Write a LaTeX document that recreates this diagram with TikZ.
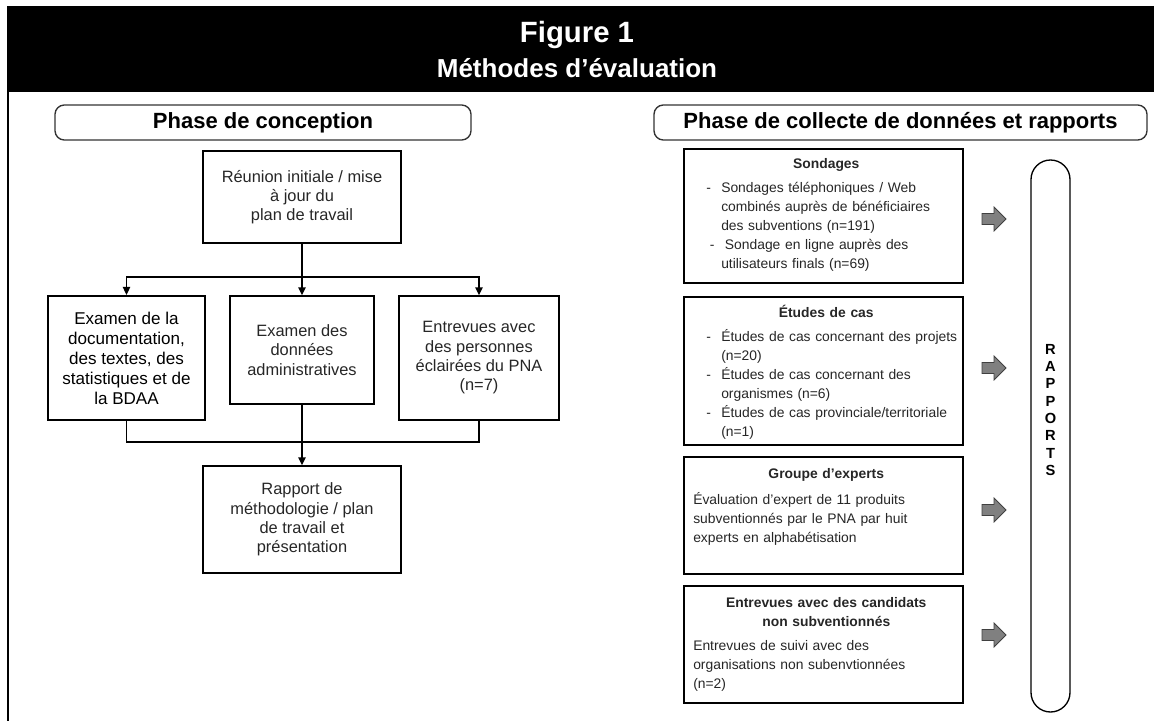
\documentclass[tikz,border=0pt]{standalone}
\usepackage{fontspec}
\setmainfont{Liberation Sans}
\usetikzlibrary{positioning,arrows.meta}

\hyphenpenalty=10000
\exhyphenpenalty=10000
\newcommand{\titrebox}[1]{{\centering\advance\rightskip 12pt\bfseries #1\par}\vspace{4pt}}
\newcommand{\puce}[2][9.75pt]{\par\hangindent=21pt\hangafter=1\noindent
  \hspace*{#1}\makebox[11.25pt][l]{-}#2\par}

\tikzset{
  entete/.style={text=white, inner sep=0pt},
  phase/.style={draw=black!80, line width=1pt, rounded corners=7pt, inner sep=0pt,
    minimum height=26.25pt, font=\bfseries\fontsize{16.5}{19}\selectfont},
  stepbox/.style={draw, line width=1pt, inner sep=0pt, align=center, text=black!85,
    font=\fontsize{12.3}{14.5}\selectfont},
  databox/.style={draw, line width=1pt, inner sep=0pt, minimum width=209.25pt},
  boxtext/.style={inner sep=0pt, align=left, text width=211.5pt, anchor=base west, text=black!85,
    font=\fontsize{10.4}{14.25}\selectfont},
  fleche/.pic={\draw[draw=black!75, fill=black!50, line width=0.6pt]
    (-12,-5.5) -- (0,-5.5) -- (0,-12) -- (12,0) -- (0,12) -- (0,5.5) -- (-12,5.5) -- cycle;},
  link/.style={line width=1.1pt},
  linkarrow/.style={link, -{Triangle[length=6pt,width=5.5pt]}}
}

\begin{document}
\begin{tikzpicture}[x=0.75pt,y=-0.75pt]
\useasboundingbox (0,0) rectangle (1154,721);

% en-tete
\fill[black] (7,6) rectangle (1154,92);
\node[entete, font=\bfseries\fontsize{22}{26}\selectfont] (fig) at (577,35) {Figure 1};
\node[entete, font=\bfseries\fontsize{19.5}{23}\selectfont] (methodes) at (577,68) {Méthodes d’évaluation};
\draw[line width=1.6pt] (8,92) -- (8,721);

% phases
\node[phase, minimum width=312pt] (conception) at (263,122.5) {Phase de conception};
\node[phase, minimum width=369.75pt] (collecte) at (900.5,122.5) {Phase de collecte de données et rapports};

% phase de conception
\node[stepbox, minimum width=148.5pt, minimum height=69pt] (reunion) at (302,197)
  {Réunion initiale / mise\\à jour du\\plan de travail};
\node[stepbox, line width=1.6pt, text=black, font=\fontsize{12.8}{15}\selectfont,
  minimum width=117.75pt, minimum height=93pt] (examdoc) at (126.5,358)
  {Examen de la\\documentation,\\des textes, des\\statistiques et de\\la BDAA};
\node[stepbox, minimum width=108pt, minimum height=81pt] (examdon) at (302,350)
  {Examen des\\données\\administratives};
\node[stepbox, minimum width=120pt, minimum height=93pt] (entrev) at (479,358)
  {Entrevues avec\\des personnes\\éclairées du PNA\\(n=7)};
\node[stepbox, minimum width=148.5pt, minimum height=80.25pt] (rapport) at (302,519.5)
  {Rapport de\\méthodologie / plan\\de travail et\\présentation};

\coordinate (split) at (302,277);
\coordinate (merge) at (302,442);
\draw[link] (reunion.south) -- (split);
\draw[linkarrow] (split) -| (examdoc.north);
\draw[linkarrow] (split) -- (examdon.north);
\draw[linkarrow] (split) -| (entrev.north);
\draw[link] (examdoc.south) |- (merge);
\draw[link] (entrev.south) |- (merge);
\draw[linkarrow] (examdon.south) -- (rapport.north);

% collecte de donnees
\node[databox, minimum height=100.5pt] (sond) at (823.5,216) {};
\node[databox, minimum height=111pt] (etudes) at (823.5,371) {};
\node[databox, minimum height=87.75pt] (groupe) at (823.5,515.5) {};
\node[databox, minimum height=87.75pt] (noncand) at (823.5,644.5) {};

\node[boxtext] (sondtxt) at (693,168) {\titrebox{Sondages}%
  \puce{Sondages téléphoniques / Web\newline combinés auprès de bénéficiaires\newline des subventions (n=191)}%
  \puce[12.5pt]{Sondage en ligne auprès des\newline utilisateurs finals (n=69)}};
\node[boxtext] (etudestxt) at (693,317) {\titrebox{Études de cas}%
  \puce{Études de cas concernant des projets\newline (n=20)}%
  \puce{Études de cas concernant des\newline organismes (n=6)}%
  \puce{Études de cas provinciale/territoriale\newline (n=1)}};
\node[boxtext] (groupetxt) at (693,478) {\titrebox{Groupe d’experts}\vspace{1.5pt}%
  Évaluation d’expert de 11 produits\\subventionnés par le PNA par huit\\experts en alphabétisation};
\node[boxtext] (noncandtxt) at (693,607) {\titrebox{Entrevues avec des candidats\\non subventionnés}%
  Entrevues de suivi avec des\\organisations non subenvtionnées\\(n=2)};

% rapports
\pic at (994,219) {fleche};
\pic at (994,368) {fleche};
\pic at (994,510) {fleche};
\pic at (994,635) {fleche};
\node[draw, line width=1pt, rounded corners=14.6pt, minimum width=29.25pt, minimum height=414pt] (capsule) at (1050.5,436) {};
\node[inner sep=0pt, align=center, font=\bfseries\fontsize{11}{13}\selectfont] (rapports) at (1050.5,410)
  {R\\A\\P\\P\\O\\R\\T\\S};

\end{tikzpicture}
\end{document}
